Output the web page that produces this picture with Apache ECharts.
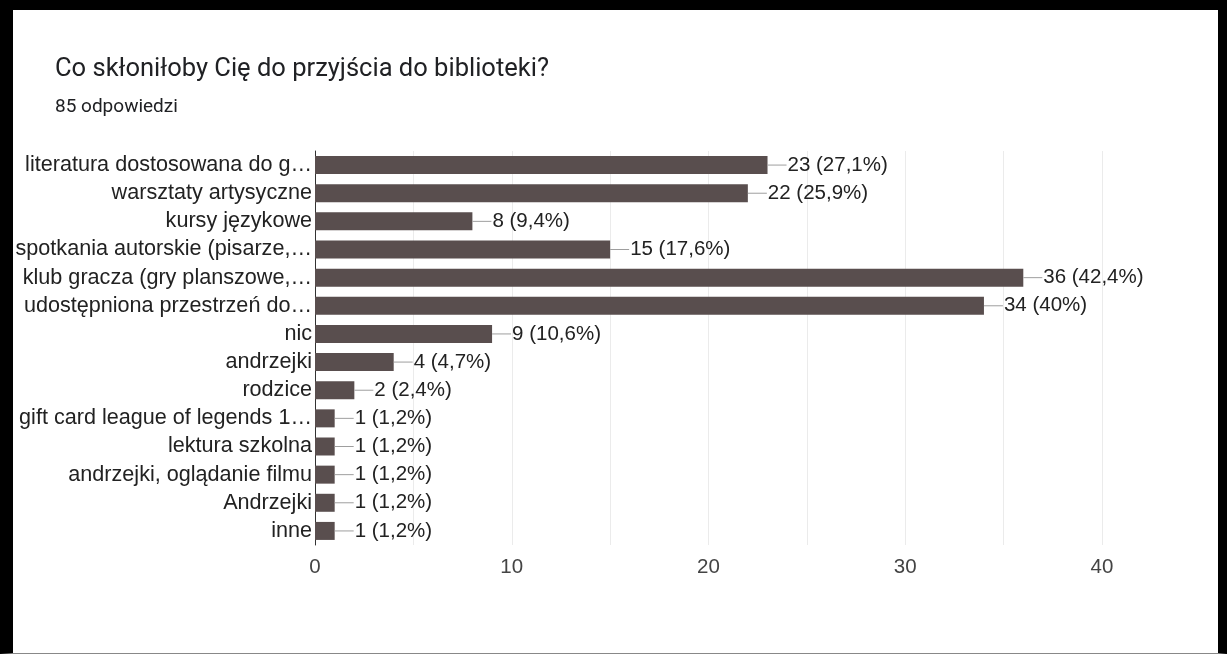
<!DOCTYPE html>
<html>
<head>
<meta charset="utf-8">
<script src="https://cdn.jsdelivr.net/npm/echarts@6/dist/echarts.min.js"></script>
<style>
html,body{margin:0;padding:0;background:#fff;}
#chart{position:absolute;left:0;top:0;width:1227px;height:654px;}
#frame{position:absolute;left:0;top:0;width:1227px;height:654px;box-sizing:border-box;
border-top:10px solid #000;border-left:13px solid #000;border-right:9px solid #000;border-bottom:1px solid #888;pointer-events:none;}
</style>
</head>
<body>
<div id="chart"></div>
<div id="frame"></div>
<script>
const titleText = "Co skłoniłoby Cię do przyjścia do biblioteki?";
const subtitleText = "85 odpowiedzi";
const categories = [
  "literatura dostosowana do g…",
  "warsztaty artysyczne",
  "kursy językowe",
  "spotkania autorskie (pisarze,…",
  "klub gracza (gry planszowe,…",
  "udostępniona przestrzeń do…",
  "nic",
  "andrzejki",
  "rodzice",
  "gift card league of legends 1…",
  "lektura szkolna",
  "andrzejki, oglądanie filmu",
  "Andrzejki",
  "inne"
];
const counts = [23, 22, 8, 15, 36, 34, 9, 4, 2, 1, 1, 1, 1, 1];
const percents = ["27,1%", "25,9%", "9,4%", "17,6%", "42,4%", "40%", "10,6%", "4,7%", "2,4%", "1,2%", "1,2%", "1,2%", "1,2%", "1,2%"];
const xTicks = [0, 10, 20, 30, 40];

const chart = echarts.init(document.getElementById('chart'), null, {renderer: 'canvas'});
const labelFont = "'Liberation Sans', Arial, sans-serif";
chart.setOption({
  animation: false,
  backgroundColor: '#fff',
  title: [
    {text: titleText, left: 50, top: 52, textStyle: {fontFamily: "Roboto, 'Open Sans', sans-serif", fontSize: 25.5, fontWeight: 'normal', color: '#202124'}},
    {text: subtitleText, left: 50, top: 93, textStyle: {fontFamily: "Roboto, sans-serif", fontSize: 19, fontWeight: 'normal', color: '#202124'}}
  ],
  grid: {left: 315, right: 125, top: 151, bottom: 109, containLabel: false},
  xAxis: {
    type: 'value', min: xTicks[0], max: xTicks[xTicks.length - 1], interval: 10,
    axisLine: {show: false}, axisTick: {show: false},
    axisLabel: {fontFamily: labelFont, fontSize: 20.5, color: '#444', margin: 12},
    splitLine: {show: true, lineStyle: {color: '#ebebeb', width: 1}},
    minorTick: {show: false, splitNumber: 2},
    minorSplitLine: {show: true, lineStyle: {color: '#ebebeb', width: 1}}
  },
  yAxis: {
    type: 'category', inverse: true, data: categories,
    axisLine: {show: true, lineStyle: {color: '#333', width: 1}},
    axisTick: {show: false},
    axisLabel: {interval: 0, hideOverlap: false, fontFamily: labelFont, fontSize: 21.6, color: '#222', margin: 3}
  },
  series: [{
    type: 'bar', data: counts, barWidth: 18,
    itemStyle: {color: '#594e4e'},
    label: {
      show: true, position: 'right', distance: 0,
      formatter: p => '{l| }{v|' + counts[p.dataIndex] + ' (' + percents[p.dataIndex] + ')}',
      rich: {
        l: {width: 19, height: 1, backgroundColor: '#9e9e9e', verticalAlign: 'middle'},
        v: {fontFamily: labelFont, fontSize: 20.5, color: '#222', verticalAlign: 'middle', padding: [0, 0, 0, 1]}
      }
    }
  }]
});
</script>
</body>
</html>
